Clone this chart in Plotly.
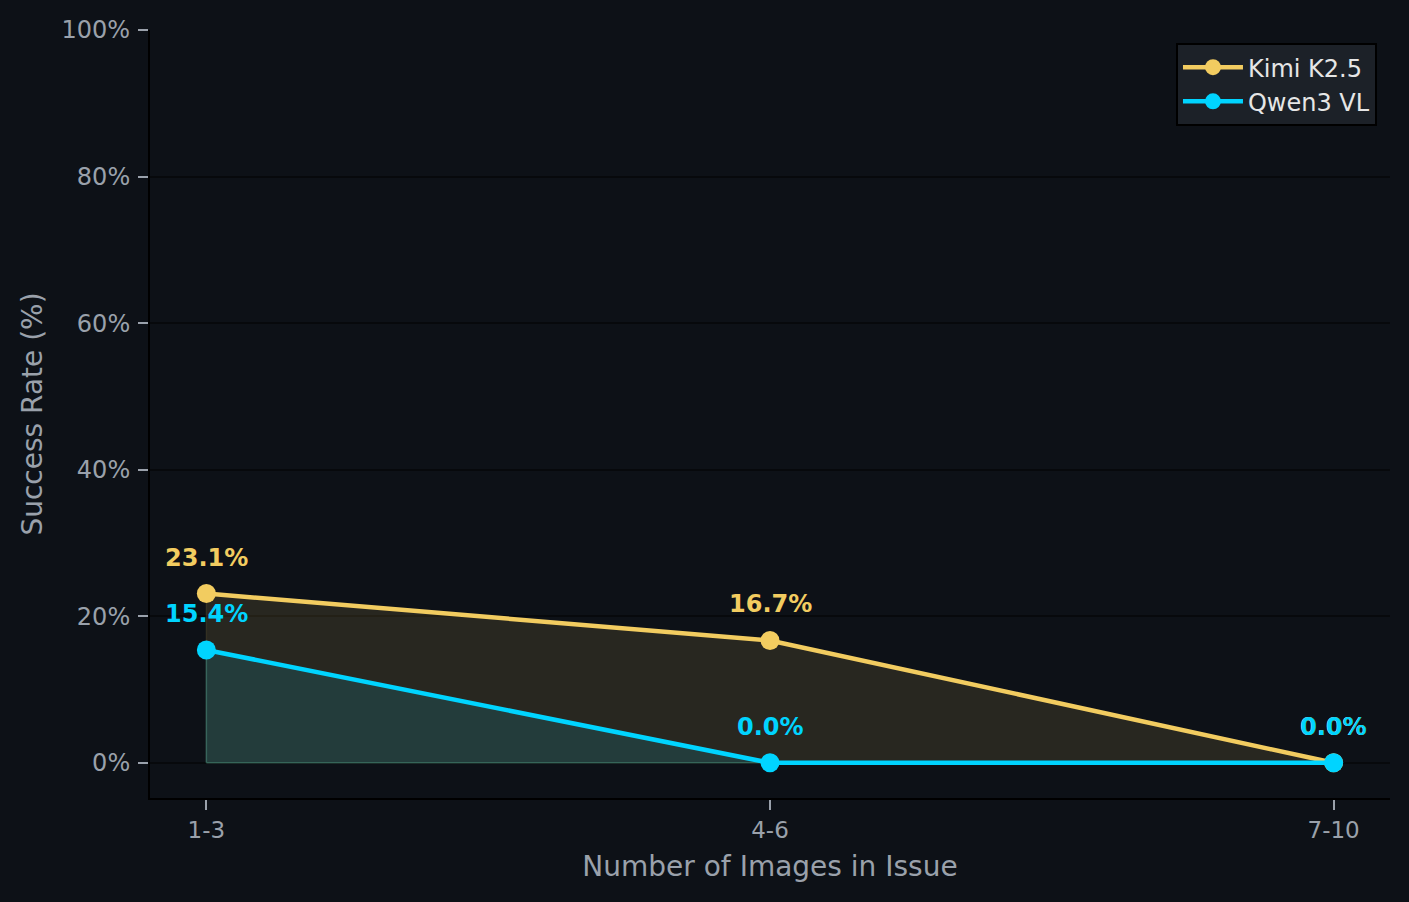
"""Success rate by number of images in the issue, dark theme line chart."""

import plotly.graph_objects as go

BG = "#0d1117"
TEXT = "#9aa1ab"
FONT = "DejaVu Sans"

categories = ["1-3", "4-6", "7-10"]
kimi_rates = [23.1, 16.7, 0.0]
qwen_rates = [15.4, 0.0, 0.0]
y_ticks = [0, 20, 40, 60, 80, 100]
y_tick_labels = ["0%", "20%", "40%", "60%", "80%", "100%"]

series = [
    ("Kimi K2.5", kimi_rates, "#f2cc60", "rgba(242,204,96,0.12)", "rgba(242,204,96,0.10)"),
    ("Qwen3 VL", qwen_rates, "#00d4ff", "rgba(0,212,255,0.12)", "rgba(80,200,190,0.30)"),
]

fig = go.Figure()
x_idx = list(range(len(categories)))

# shaded areas first, with the faint polygon edge matplotlib draws
for name, values, color, fill, edge in series:
    fig.add_trace(
        go.Scatter(
            x=[x_idx[0]] + x_idx + [x_idx[-1], x_idx[0]],
            y=[0] + values + [0, 0],
            mode="lines",
            fill="toself",
            fillcolor=fill,
            line=dict(color=edge, width=1.5),
            hoverinfo="skip",
            showlegend=False,
        )
    )

for name, values, color, fill, edge in series:
    fig.add_trace(
        go.Scatter(
            x=x_idx,
            y=values,
            mode="lines+markers",
            name=name,
            line=dict(color=color, width=4.5),
            marker=dict(color=color, size=19),
        )
    )
    for xi, v in zip(x_idx, values):
        fig.add_annotation(
            x=xi,
            y=v,
            text=f"<b>{v:.1f}%</b>",
            showarrow=False,
            yshift=36,
            font=dict(family=FONT, size=24, color=color),
        )

fig.update_layout(
    width=1409,
    height=902,
    paper_bgcolor=BG,
    plot_bgcolor=BG,
    margin=dict(l=150, r=19, t=30, b=104),
    font=dict(family=FONT, size=23, color=TEXT),
    showlegend=True,
    legend=dict(
        x=0.9895,
        y=0.983,
        xanchor="right",
        yanchor="top",
        bgcolor="#1c2128",
        bordercolor="#000000",
        borderwidth=2,
        font=dict(family=FONT, size=24, color="#e6e6e6"),
        itemwidth=60,
    ),
)

fig.update_xaxes(
    range=[-0.1, 2.1],
    tickvals=x_idx,
    ticktext=categories,
    showgrid=False,
    zeroline=False,
    showline=True,
    linecolor="#000000",
    linewidth=2,
    ticks="outside",
    ticklen=10,
    tickwidth=2,
    tickcolor=TEXT,
    tickfont=dict(family=FONT, size=23, color=TEXT),
    title=dict(text="Number of Images in Issue", font=dict(family=FONT, size=28, color=TEXT), standoff=15),
)

fig.update_yaxes(
    range=[-4.8, 100],
    tickvals=y_ticks,
    ticktext=y_tick_labels,
    showgrid=True,
    gridcolor="#07090c",
    gridwidth=2,
    zeroline=False,
    showline=True,
    linecolor="#000000",
    linewidth=2,
    ticks="outside",
    ticklen=10,
    tickwidth=2,
    tickcolor=TEXT,
    ticklabelstandoff=3,
    tickfont=dict(family=FONT, size=24, color=TEXT),
    title=dict(text="Success Rate (%)", font=dict(family=FONT, size=28, color=TEXT), standoff=11),
)

fig.write_html(
    "out.html",
    config={"displayModeBar": False},
    post_script="document.body.style.margin='0';",
)
